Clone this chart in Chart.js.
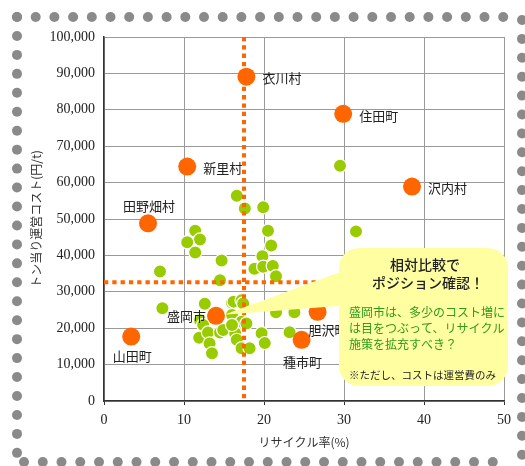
<!DOCTYPE html>
<html>
<head>
<meta charset="utf-8">
<script src="https://cdn.jsdelivr.net/npm/chart.js@4.4.1/dist/chart.umd.min.js"></script>
<style>
  body { margin: 0; background: #fff; }
  #wrap { width: 525px; height: 466px; }
</style>
</head>
<body>
<div id="wrap"><canvas id="chart"></canvas></div>
<script>
// highlighted towns
const orangeNames = ['衣川村', '住田町', '新里村', '沢内村', '田野畑村', '盛岡市', '胆沢町', '種市町', '山田町'];
const orangeX = [17.8, 29.9, 10.4, 38.5, 5.5, 14.0, 26.7, 24.7, 3.4];
const orangeY = [89100, 78900, 64400, 58900, 48800, 23400, 24500, 16800, 17700];

// other towns
const greenX = [29.5, 16.6, 17.6, 19.9, 31.5, 11.4, 12.0, 10.4, 11.4, 20.5,
                20.9, 14.7, 19.8, 18.8, 19.9, 21.1, 21.5, 7.0, 14.5, 7.3,
                12.6, 16.0, 16.2, 17.2, 17.4, 16.0, 12.0, 12.4, 17.2, 17.8,
                11.9, 13.0, 13.2, 13.5, 14.5, 14.9, 16.4, 16.6, 17.2, 18.2,
                19.7, 20.1, 23.2, 21.5, 23.8, 16.0];
const greenY = [64600, 56400, 52900, 53200, 46600, 46800, 44400, 43600, 40800, 46800,
                42700, 38600, 39800, 36300, 36900, 37100, 34300, 35600, 33200, 25500,
                26700, 27000, 27300, 27700, 26800, 23600, 22200, 20900, 21800, 21300,
                17400, 18800, 15800, 13100, 18800, 19500, 18600, 16800, 14500, 14500,
                18600, 15900, 18900, 24400, 24400, 20900];

// average lines
const refX = 17.5;
const refY = 32600;

const xTicks = [0, 10, 20, 30, 40, 50];
const yTicks = [0, 10000, 20000, 30000, 40000, 50000, 60000, 70000, 80000, 90000, 100000];

const bubbleTitle = ['相対比較で', 'ポジション確認！'];
const bubbleText = ['盛岡市は、多少のコスト増に', 'は目をつぶって、リサイクル', '施策を拡充すべき？'];
const bubbleNote = '※ただし、コストは運営費のみ';

// label placement: align, dx, dy
const labelPos = [
  ['left', 16, 1], ['left', 16, 2], ['left', 16, 1], ['left', 16, 1],
  ['center', 1, -17], ['right', -10, 0], ['left', -9, 18], ['center', 1, 22], ['center', 1, 19]
];

const jp = '"Noto Sans CJK JP", "Noto Sans", sans-serif';
const serif = '"Liberation Serif", "DejaVu Serif", serif';

const decor = {
  id: 'decor',
  beforeDraw(chart) {
    const ctx = chart.ctx;
    ctx.save();
    ctx.fillStyle = '#8a8a8a';
    const dot = (x, y) => { ctx.beginPath(); ctx.arc(x, y, 5, 0, Math.PI * 2); ctx.fill(); };
    for (let x = 17; x <= 506; x += 18.7) dot(x, 17);
    for (let y = 17; y <= 455; y += 18.95) dot(17, y);
    for (let x = 24; x <= 502; x += 18.75) dot(x, 462);
    for (let y = 20; y <= 462; y += 18.9) dot(522, y);
    ctx.restore();
  },
  afterDatasetsDraw(chart) {
    const ctx = chart.ctx;
    const pts = chart.getDatasetMeta(0).data;
    ctx.save();
    ctx.font = '13px ' + jp;
    ctx.fillStyle = '#222';
    ctx.textBaseline = 'middle';
    pts.forEach((p, i) => {
      const [al, dx, dy] = labelPos[i];
      ctx.textAlign = al;
      ctx.fillText(orangeNames[i], p.x + dx, p.y + dy);
    });

    // callout bubble
    const m = pts[5];
    const bx = 339, by = 248, bw = 169, bh = 138, r = 20;
    ctx.fillStyle = '#ffffa2';
    ctx.beginPath();
    ctx.moveTo(m.x + 8, m.y - 1);
    ctx.lineTo(bx + 12, 268);
    ctx.lineTo(bx + 12, 305);
    ctx.closePath();
    ctx.fill();
    ctx.beginPath();
    ctx.roundRect(bx, by, bw, bh, r);
    ctx.fill();

    ctx.fillStyle = '#222';
    ctx.textAlign = 'center';
    ctx.font = '500 14px ' + jp;
    ctx.fillText(bubbleTitle[0], 425, 265);
    ctx.fillText(bubbleTitle[1], 428, 283);
    ctx.textAlign = 'left';
    ctx.font = '12px ' + jp;
    ctx.fillStyle = '#2f9a1c';
    bubbleText.forEach((t, i) => ctx.fillText(t, 349, 312 + i * 16));
    ctx.fillStyle = '#222';
    ctx.font = '10.5px ' + jp;
    ctx.fillText(bubbleNote, 349, 375);
    ctx.restore();
  }
};

new Chart(document.getElementById('chart'), {
  type: 'scatter',
  data: {
    datasets: [
      {
        data: orangeX.map((x, i) => ({ x: x, y: orangeY[i] })),
        backgroundColor: '#ff6600',
        borderWidth: 0,
        pointRadius: 9,
        order: 0
      },
      {
        type: 'line',
        data: [{ x: refX, y: 100000 }, { x: refX, y: 0 }],
        borderColor: '#ff6600',
        borderWidth: 4,
        borderDash: [4.3, 4],
        pointRadius: 0,
        order: 1
      },
      {
        type: 'line',
        data: [{ x: 0, y: refY }, { x: 50, y: refY }],
        borderColor: '#ff6600',
        borderWidth: 4,
        borderDash: [4.3, 4],
        pointRadius: 0,
        order: 1
      },
      {
        data: greenX.map((x, i) => ({ x: x, y: greenY[i] })),
        backgroundColor: '#99cc00',
        borderColor: '#ffffff',
        borderWidth: 1.2,
        pointRadius: 6.6,
        order: 2
      }
    ]
  },
  options: {
    responsive: true,
    maintainAspectRatio: false,
    animation: false,
    events: [],
    layout: { padding: { left: 0, top: 37, right: 21, bottom: 0 } },
    plugins: {
      legend: { display: false },
      tooltip: { enabled: false }
    },
    scales: {
      x: {
        type: 'linear',
        min: 0,
        max: 50,
        afterFit: s => { s.height = 65; },
        afterBuildTicks: s => { s.ticks = xTicks.map(v => ({ value: v })); },
        grid: { color: '#9a9a9a', lineWidth: 1, tickLength: 4, tickColor: '#333' },
        border: { color: '#333', width: 1.5 },
        ticks: { color: '#222', padding: 7, font: { family: serif, size: 14 } },
        title: {
          display: true,
          text: 'リサイクル率(%)',
          color: '#333',
          font: { family: jp, size: 12 },
          padding: { top: 0, bottom: 16 }
        }
      },
      y: {
        min: 0,
        max: 100000,
        afterFit: s => { s.width = 104; },
        afterBuildTicks: s => { s.ticks = yTicks.map(v => ({ value: v })); },
        grid: { color: '#9a9a9a', lineWidth: 1, drawTicks: false },
        border: { color: '#333', width: 1.5 },
        ticks: {
          color: '#222',
          padding: 9,
          font: { family: serif, size: 14 },
          callback: v => v.toLocaleString('en-US')
        },
        title: {
          display: true,
          text: 'トン当り運営コスト(円/t)',
          color: '#333',
          font: { family: jp, size: 12 },
          padding: { top: 29, bottom: 0 }
        }
      }
    }
  },
  plugins: [decor]
});
</script>
</body>
</html>
